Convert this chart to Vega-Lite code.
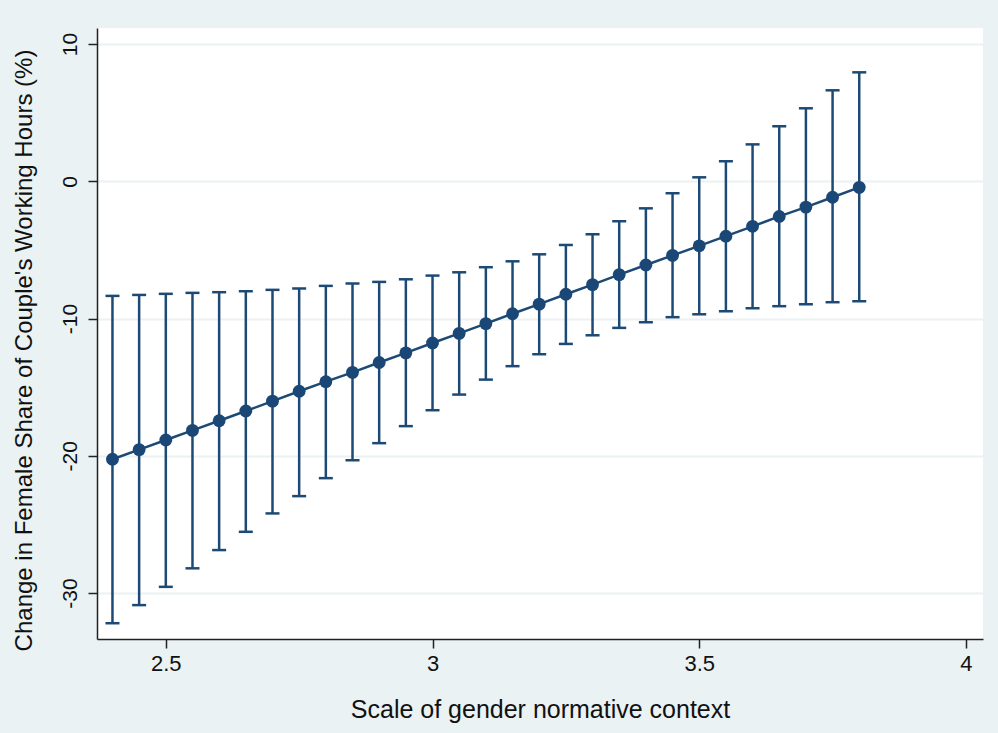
{
  "$schema": "https://vega.github.io/schema/vega-lite/v6.json",
  "width": 886,
  "height": 611,
  "autosize": {"type": "none"},
  "padding": {"left": 97, "top": 28, "right": 15, "bottom": 94},
  "background": "#EAF2F3",
  "config": {
    "view": {"fill": "white", "stroke": null},
    "font": "Liberation Sans",
    "axis": {
      "domainColor": "#222222",
      "domainWidth": 1.5,
      "tickColor": "#222222",
      "tickWidth": 1.5,
      "tickSize": 9,
      "labelColor": "#111111",
      "titleColor": "#111111",
      "labelFont": "Liberation Sans",
      "titleFont": "Liberation Sans",
      "titleFontWeight": "normal"
    }
  },
  "data": {
    "values": [
      {"x": 2.40, "est": -20.25, "lo": -32.2, "hi": -8.35},
      {"x": 2.45, "est": -19.55, "lo": -30.88, "hi": -8.28},
      {"x": 2.50, "est": -18.85, "lo": -29.55, "hi": -8.2},
      {"x": 2.55, "est": -18.15, "lo": -28.2, "hi": -8.13},
      {"x": 2.60, "est": -17.45, "lo": -26.87, "hi": -8.08},
      {"x": 2.65, "est": -16.74, "lo": -25.54, "hi": -8.01},
      {"x": 2.70, "est": -16.02, "lo": -24.2, "hi": -7.91},
      {"x": 2.75, "est": -15.3, "lo": -22.94, "hi": -7.81},
      {"x": 2.80, "est": -14.6, "lo": -21.63, "hi": -7.62},
      {"x": 2.85, "est": -13.92, "lo": -20.32, "hi": -7.45},
      {"x": 2.90, "est": -13.2, "lo": -19.08, "hi": -7.33},
      {"x": 2.95, "est": -12.5, "lo": -17.84, "hi": -7.14},
      {"x": 3.00, "est": -11.78, "lo": -16.68, "hi": -6.87},
      {"x": 3.05, "est": -11.08, "lo": -15.54, "hi": -6.63},
      {"x": 3.10, "est": -10.37, "lo": -14.45, "hi": -6.26},
      {"x": 3.15, "est": -9.65, "lo": -13.47, "hi": -5.83},
      {"x": 3.20, "est": -8.95, "lo": -12.6, "hi": -5.32},
      {"x": 3.25, "est": -8.23, "lo": -11.85, "hi": -4.64},
      {"x": 3.30, "est": -7.53, "lo": -11.22, "hi": -3.86},
      {"x": 3.35, "est": -6.8, "lo": -10.68, "hi": -2.91},
      {"x": 3.40, "est": -6.1, "lo": -10.27, "hi": -1.97},
      {"x": 3.45, "est": -5.4, "lo": -9.9, "hi": -0.87},
      {"x": 3.50, "est": -4.7, "lo": -9.69, "hi": 0.29},
      {"x": 3.55, "est": -4.0, "lo": -9.47, "hi": 1.46},
      {"x": 3.60, "est": -3.28, "lo": -9.25, "hi": 2.69},
      {"x": 3.65, "est": -2.56, "lo": -9.1, "hi": 4.01},
      {"x": 3.70, "est": -1.88, "lo": -8.96, "hi": 5.32},
      {"x": 3.75, "est": -1.16, "lo": -8.81, "hi": 6.63},
      {"x": 3.80, "est": -0.44, "lo": -8.74, "hi": 7.94}
    ]
  },
  "encoding": {
    "x": {
      "field": "x",
      "type": "quantitative",
      "scale": {"domain": [2.371, 4.032], "nice": false, "zero": false},
      "axis": {
        "values": [2.5, 3, 3.5, 4],
        "labelExpr": "'' + datum.value",
        "grid": false,
        "title": "Scale of gender normative context",
        "labelFontSize": 22,
        "labelPadding": 5,
        "titleFontSize": 25,
        "titleBaseline": "alphabetic",
        "titleY": 78,
        "labelFlush": false
      }
    }
  },
  "layer": [
    {
      "mark": {"type": "rule", "color": "#1c4a74", "strokeWidth": 2.5},
      "encoding": {
        "y": {
          "field": "lo",
          "type": "quantitative",
          "scale": {"domain": [-33.35, 11.17], "nice": false, "zero": false},
          "axis": {
            "values": [-30, -20, -10, 0, 10],
            "labelExpr": "'' + datum.value",
            "grid": true,
            "gridColor": "#EAF2F3",
            "gridWidth": 2,
            "labelAngle": -90,
            "labelAlign": "center",
            "labelBaseline": "bottom",
            "labelPadding": 8,
            "labelFontSize": 21,
            "labelFlush": false,
            "title": "Change in Female Share of Couple's Working Hours (%)",
            "titleFontSize": 24,
            "titleAngle": -90,
            "titleAlign": "center",
            "titleBaseline": "middle",
            "titleX": -73,
            "titleY": 322
          }
        },
        "y2": {"field": "hi"}
      }
    },
    {
      "mark": {"type": "tick", "orient": "horizontal", "color": "#1c4a74", "thickness": 2.5, "size": 14, "opacity": 1},
      "encoding": {"y": {"field": "lo", "type": "quantitative"}}
    },
    {
      "mark": {"type": "tick", "orient": "horizontal", "color": "#1c4a74", "thickness": 2.5, "size": 14, "opacity": 1},
      "encoding": {"y": {"field": "hi", "type": "quantitative"}}
    },
    {
      "mark": {"type": "line", "color": "#1c4a74", "strokeWidth": 2.5},
      "encoding": {"y": {"field": "est", "type": "quantitative"}}
    },
    {
      "mark": {"type": "point", "filled": true, "color": "#1a4775", "size": 165, "opacity": 1},
      "encoding": {"y": {"field": "est", "type": "quantitative"}}
    }
  ]
}
